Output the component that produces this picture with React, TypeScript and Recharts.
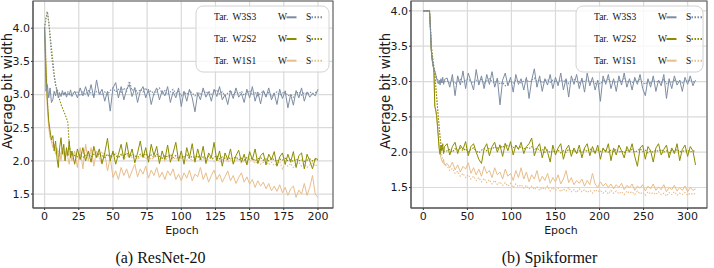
import React from 'react';
import { LineChart, Line, XAxis, YAxis, CartesianGrid } from 'recharts';

// colours of the three targets
const GRAY = '#7c8da3';
const OLIVE = '#8c8c00';
const TAN = '#e9bd8a';

// ---------- (a) ResNet-20 ----------
const EPOCH_L = [
  0, 1, 2, 3, 4, 5, 6, 7, 8, 9, 10, 11, 12, 13, 14, 15, 16, 17, 18, 19, 20,
  22, 24, 26, 28, 30, 32, 34, 36, 38, 40,
  42, 44, 46, 48, 50, 52, 54, 56, 58, 60,
  62, 64, 66, 68, 70, 72, 74, 76, 78, 80,
  82, 84, 86, 88, 90, 92, 94, 96, 98, 100,
  102, 104, 106, 108, 110, 112, 114, 116, 118, 120,
  122, 124, 126, 128, 130, 132, 134, 136, 138, 140,
  142, 144, 146, 148, 150, 152, 154, 156, 158, 160,
  162, 164, 166, 168, 170, 172, 174, 176, 178, 180,
  182, 184, 186, 188, 190, 192, 194, 196, 198, 200,
];

const W3_L = [
  4.0, 3.05, 3.15, 2.95, 3.1, 2.88, 2.92, 3.05, 2.98, 3.08, 2.95, 3.02, 2.97, 3.06, 2.99, 3.04, 2.96, 3.02, 3.0, 3.07, 2.97,
  3.05, 2.95, 3.1, 2.98, 3.12, 2.97, 3.15, 2.95, 3.22, 3.0,
  3.08, 2.9, 3.05, 2.75, 3.1, 3.18, 2.95, 3.12, 2.92, 3.08,
  3.15, 2.97, 3.1, 2.88, 3.05, 3.12, 2.95, 3.08, 2.85, 3.02,
  3.1, 2.92, 3.06, 2.98, 3.12, 2.88, 3.04, 2.95, 3.1, 2.82,
  3.05, 2.9, 3.08, 2.95, 2.74, 3.02, 2.92, 3.1, 2.96, 3.04,
  2.9, 3.08, 2.97, 3.12, 2.92, 3.0, 2.85, 3.06, 2.94, 3.1,
  2.96, 3.02, 2.88, 3.08, 2.95, 3.12, 2.9, 3.04, 2.86, 3.06,
  2.96, 3.1, 2.92, 3.02, 2.85, 3.08, 2.94, 3.05, 2.8, 3.0,
  2.84, 3.06, 2.95, 3.1, 2.9, 3.04, 2.96, 3.02, 2.98, 3.08,
];

const S3_L = [
  4.0, 4.15, 4.25, 4.1, 3.85, 3.6, 3.42, 3.27, 3.15, 3.08, 3.04, 3.02, 3.0, 3.03, 2.99, 3.02, 3.0, 3.04, 3.01, 2.98, 3.02,
  3.02, 3.05, 2.98, 3.04, 3.0, 3.06, 3.02, 2.98, 3.05, 3.03,
  2.99, 3.04, 3.0, 3.06, 3.1, 3.04, 3.08, 3.02, 3.1, 3.05,
  3.2, 3.06, 3.1, 3.02, 3.08, 3.04, 3.1, 3.03, 3.06, 3.0,
  3.05, 3.1, 3.02, 3.06, 3.0, 3.04, 3.08, 3.02, 3.05, 2.98,
  3.04, 3.0, 3.06, 3.02, 2.98, 3.04, 3.0, 3.06, 3.02, 3.05,
  3.0, 3.03, 3.07, 3.01, 3.04, 2.98, 3.02, 3.06, 3.0, 3.04,
  3.01, 3.05, 2.99, 3.03, 3.06, 3.0, 3.04, 2.98, 3.02, 3.05,
  3.0, 3.03, 2.97, 3.02, 3.04, 2.99, 3.02, 3.05, 2.98, 3.0,
  2.96, 3.02, 3.04, 2.99, 3.03, 3.0, 3.04, 3.01, 3.03, 3.05,
];

const W2_L = [
  4.0, 3.4, 2.9, 2.6, 2.45, 2.32, 2.38, 2.15, 2.3, 2.05, 1.9, 2.2, 2.35, 2.1, 2.25, 2.0, 2.2, 2.08, 2.3, 2.05, 2.15,
  1.95, 2.18, 2.02, 2.2, 2.0, 2.15, 1.98, 2.22, 2.05, 2.18,
  1.96, 2.12, 2.34, 2.0, 2.15, 1.95, 2.1, 2.25, 2.02, 2.28,
  2.05, 2.18, 1.97, 2.12, 2.3, 2.05, 2.2, 1.98, 2.25, 2.08,
  2.22, 1.96, 2.15, 2.02, 2.24, 1.98, 2.12, 2.28, 2.0, 2.15,
  1.95, 2.2, 2.05, 2.26, 1.98, 2.18, 2.02, 2.22, 1.96, 2.12,
  2.05, 2.28, 2.0, 2.15, 1.92, 2.12, 2.02, 2.18, 1.95, 2.08,
  2.16, 1.98, 2.1, 1.94, 2.14, 2.02, 2.18, 1.96, 2.08, 2.12,
  1.94, 2.1, 2.02, 2.14, 1.92, 2.06, 2.12, 1.95, 2.1, 1.98,
  2.14, 1.9, 2.08, 2.12, 1.88, 2.1, 2.0, 1.88, 2.04, 2.02,
];

const S2_L = [
  4.0, 4.15, 4.25, 4.1, 3.9, 3.7, 3.52, 3.3, 3.15, 3.05, 3.0, 2.92, 2.85, 2.8, 2.75, 2.7, 2.64, 2.58, 2.25, 2.12, 2.1,
  2.08, 2.06, 2.1, 2.05, 2.08, 2.12, 2.06, 2.1, 2.07, 2.12,
  2.08, 2.05, 2.1, 2.06, 2.12, 2.08, 2.05, 2.1, 2.07, 2.12,
  2.06, 2.1, 2.08, 2.05, 2.1, 2.07, 2.11, 2.06, 2.09, 2.05,
  2.1, 2.07, 2.04, 2.08, 2.06, 2.1, 2.05, 2.08, 2.04, 2.07,
  2.05, 2.09, 2.04, 2.07, 2.05, 2.08, 2.03, 2.06, 2.04, 2.07,
  2.03, 2.05, 2.08, 2.03, 2.06, 2.04, 2.02, 2.05, 2.03, 2.06,
  2.02, 2.04, 2.01, 2.05, 2.02, 2.04, 2.0, 2.03, 2.05, 2.01,
  2.03, 2.0, 2.04, 2.02, 1.99, 2.03, 2.01, 2.04, 2.0, 2.02,
  1.99, 2.03, 2.0, 2.02, 1.99, 2.01, 2.03, 2.0, 2.02, 2.01,
];

const W1_L = [
  4.0, 3.3, 2.8, 2.5, 2.35, 2.3, 2.2, 2.25, 2.1, 2.2, 2.05, 2.15, 2.0, 2.2, 2.1, 2.0, 2.15, 2.05, 1.95, 2.1, 2.0,
  2.15, 1.9, 2.2, 1.88, 2.25, 2.0, 2.2, 1.92, 2.15, 2.05,
  1.95, 2.12, 1.85, 2.05, 1.75, 1.85, 1.72, 1.9, 1.78, 1.88,
  1.74, 1.85, 1.95, 1.76, 1.88, 1.8, 1.92, 1.74, 1.86, 1.78,
  1.9, 1.75, 1.83, 1.72, 1.85, 1.78, 1.88, 1.72, 1.8, 1.7,
  1.82, 1.74, 1.86, 1.7, 1.8, 1.76, 1.9, 1.72, 1.82, 1.68,
  1.78, 1.86, 1.72, 1.8, 1.68, 1.76, 1.85, 1.7, 1.78, 1.66,
  1.75, 1.82, 1.68, 1.76, 1.65, 1.72, 1.6, 1.7, 1.62, 1.68,
  1.58, 1.66, 1.55, 1.62, 1.54, 1.64, 1.52, 1.6, 1.48, 1.58,
  1.62, 1.45, 1.56, 1.5, 1.66, 1.48, 1.6, 1.78, 1.5, 1.45,
];

const S1_L = [
  4.0, 3.6, 3.0, 2.6, 2.4, 2.3, 2.25, 2.2, 2.2, 2.15, 2.15, 2.12, 2.1, 2.12, 2.1, 2.08, 2.1, 2.08, 2.1, 2.06, 2.08,
  2.12, 2.08, 2.15, 2.1, 2.2, 2.08, 2.12, 2.18, 2.05, 2.1,
  2.14, 2.06, 2.1, 2.04, 2.08, 2.12, 2.05, 2.09, 2.03, 2.07,
  2.1, 2.04, 2.08, 2.02, 2.06, 2.1, 2.03, 2.07, 2.02, 2.05,
  2.08, 2.02, 2.06, 2.0, 2.05, 2.08, 2.02, 2.05, 2.0, 2.04,
  2.07, 2.01, 2.05, 2.0, 2.03, 2.06, 2.0, 2.04, 1.99, 2.03,
  2.05, 1.99, 2.03, 1.98, 2.02, 2.04, 1.98, 2.02, 1.97, 2.01,
  2.03, 1.97, 2.0, 1.96, 2.0, 2.02, 1.96, 1.99, 1.95, 1.98,
  2.0, 1.94, 1.98, 1.93, 1.96, 1.99, 1.88, 1.95, 1.92, 1.96,
  1.9, 1.95, 1.98, 1.92, 1.95, 1.9, 1.94, 1.97, 1.92, 1.95,
];

// ---------- (b) Spikformer ----------
const EPOCH_R = [
  0, 4, 7, 8, 9, 10, 11, 12, 13, 14, 15, 16, 17, 18, 19, 20, 21, 22, 23, 24,
  27, 30, 33, 36, 39, 42, 45, 48, 51, 54,
  57, 60, 63, 66, 69, 72, 75, 78, 81, 84,
  87, 90, 93, 96, 99, 102, 105, 108, 111, 114,
  117, 120, 123, 126, 129, 132, 135, 138, 141, 144,
  147, 150, 153, 156, 159, 162, 165, 168, 171, 174,
  177, 180, 183, 186, 189, 192, 195, 198, 201, 204,
  207, 210, 213, 216, 219, 222, 225, 228, 231, 234,
  237, 240, 243, 246, 249, 252, 255, 258, 261, 264,
  267, 270, 273, 276, 279, 282, 285, 288, 291, 294,
  297, 300, 303, 306, 309,
];

const W3_R = [
  4.0, 4.0, 4.0, 3.75, 3.45, 3.3, 3.22, 3.18, 3.15, 3.1, 3.05, 3.0, 2.97, 3.02, 2.95, 3.04, 2.98, 3.06, 2.96, 3.03,
  3.05, 2.92, 3.1, 2.8, 3.08, 2.95, 3.15, 2.9, 3.12, 3.0,
  2.88, 3.17, 2.95, 3.08, 2.9, 3.1, 2.96, 3.14, 2.92, 3.05,
  2.67, 3.02, 3.12, 2.94, 3.06, 2.85, 3.1, 2.96, 3.04, 2.88,
  3.06, 2.76, 3.02, 3.18, 2.92, 3.08, 2.86, 3.04, 2.95, 3.1,
  2.9, 3.06, 2.94, 3.12, 2.88, 3.04, 2.78, 3.08, 2.96, 3.1,
  2.9, 3.05, 2.85, 3.12, 2.94, 3.06, 2.88, 3.02, 2.72, 3.08,
  2.96, 3.1, 2.9, 3.04, 2.86, 3.08, 2.95, 3.12, 2.92, 3.04,
  2.88, 3.06, 2.96, 3.1, 2.9, 2.8, 3.04, 2.92, 3.08, 2.86,
  3.02, 2.94, 3.1, 2.76, 3.04, 2.9, 3.08, 2.95, 3.02, 2.86,
  3.06, 2.96, 3.08, 2.94, 3.02,
];

const S3_R = [
  4.0, 4.0, 4.0, 3.8, 3.5, 3.35, 3.24, 3.18, 3.14, 3.1, 3.06, 3.03, 3.01, 3.0, 2.99, 3.01, 3.0, 2.98, 3.01, 3.0,
  3.01, 2.98, 3.02, 2.97, 3.0, 3.03, 2.99, 3.02, 3.04, 3.0,
  2.98, 3.02, 3.0, 3.03, 2.97, 3.01, 3.04, 3.0, 2.98, 3.02,
  2.96, 2.99, 2.94, 2.98, 3.01, 2.97, 3.02, 3.0, 2.98, 3.01,
  3.03, 2.99, 3.02, 3.05, 3.0, 3.02, 2.98, 3.01, 3.03, 2.99,
  3.02, 3.0, 2.98, 3.03, 3.0, 3.02, 2.97, 3.01, 3.04, 3.0,
  2.98, 3.02, 3.0, 3.03, 2.99, 3.01, 2.97, 3.0, 2.96, 3.02,
  3.0, 3.03, 2.99, 3.01, 2.98, 3.02, 3.0, 3.04, 2.99, 3.01,
  2.98, 3.02, 3.0, 3.03, 2.99, 2.96, 3.01, 2.98, 3.02, 2.99,
  3.01, 2.98, 3.03, 2.97, 3.0, 2.99, 3.02, 3.0, 3.01, 2.98,
  3.02, 3.0, 3.03, 2.99, 3.01,
];

const W2_R = [
  4.0, 4.0, 4.0, 3.75, 3.45, 3.32, 3.25, 3.15, 2.65, 2.6, 2.52, 2.38, 2.22, 2.05, 1.97, 2.1, 2.02, 2.12, 1.98, 2.08,
  2.12, 1.96, 2.08, 2.14, 1.98, 2.1, 2.04, 2.15, 1.95, 2.08,
  2.12, 2.0, 1.9, 1.84, 2.05, 2.12, 1.95, 2.08, 2.14, 2.0,
  2.1, 1.94, 2.12, 2.02, 2.15, 1.96, 2.1, 2.04, 2.14, 1.98,
  2.08, 2.12, 2.2, 1.95, 2.06, 2.12, 1.92, 2.08, 2.0, 1.86,
  2.1, 1.96, 2.06, 2.12, 1.9, 2.04, 2.1, 1.94, 2.06, 1.98,
  2.1, 1.92, 2.06, 2.12, 1.95, 2.08, 1.98, 2.1, 1.9, 2.06,
  2.0, 2.12, 1.88, 2.06, 1.96, 2.1, 2.02, 1.92, 2.08, 2.0,
  2.12, 1.94, 1.8, 2.06, 2.1, 1.9, 2.08, 2.02, 1.86, 2.06,
  2.12, 1.96, 2.04, 2.1, 1.92, 2.06, 1.98, 2.12, 1.88, 2.04,
  2.1, 1.94, 2.08, 2.02, 1.82,
];

const S2_R = [
  4.0, 4.0, 4.0, 3.8, 3.5, 3.4, 3.3, 3.2, 3.1, 2.95, 2.8, 2.65, 2.5, 2.35, 2.22, 2.12, 2.06, 2.03, 2.02, 2.01,
  2.02, 2.04, 2.0, 2.05, 2.03, 2.06, 2.02, 2.05, 2.0, 2.04,
  2.06, 2.02, 1.99, 2.03, 2.05, 2.02, 2.06, 2.04, 2.08, 2.05,
  2.1, 2.06, 2.12, 2.08, 2.1, 2.06, 2.09, 2.05, 2.08, 2.04,
  2.07, 2.05, 2.08, 2.03, 2.06, 2.02, 2.04, 2.0, 2.03, 1.99,
  2.02, 2.0, 2.03, 1.99, 2.02, 2.0, 2.04, 2.01, 2.03, 1.99,
  2.02, 2.0, 2.04, 2.01, 2.05, 2.02, 2.0, 2.03, 2.01, 2.04,
  2.02, 2.0, 2.03, 2.01, 2.04, 2.0, 2.02, 1.99, 2.03, 2.01,
  2.04, 2.0, 2.02, 2.05, 2.01, 2.03, 1.99, 2.02, 2.0, 2.03,
  2.01, 2.04, 2.0, 2.02, 1.99, 2.03, 2.01, 2.04, 2.0, 2.02,
  2.01, 2.03, 2.0, 2.02, 2.01,
];

const W1_R = [
  4.0, 4.0, 4.0, 3.75, 3.45, 3.32, 3.25, 3.15, 2.65, 2.6, 2.52, 2.38, 2.22, 2.05, 1.98, 1.92, 1.88, 1.85, 1.9, 1.82,
  1.84, 1.78, 1.86, 1.75, 1.82, 1.72, 1.8, 1.76, 1.85, 1.7,
  1.78, 1.68, 1.76, 1.66, 1.8, 1.7, 1.74, 1.64, 1.78, 1.68,
  1.72, 1.62, 1.76, 1.66, 1.7, 1.6, 1.74, 1.64, 1.78, 1.62,
  1.72, 1.58, 1.68, 1.62, 1.74, 1.58, 1.66, 1.6, 1.7, 1.56,
  1.64, 1.58, 1.68, 1.55, 1.62, 1.74, 1.57, 1.64, 1.54, 1.6,
  1.56, 1.62, 1.52, 1.6, 1.54, 1.7, 1.55, 1.5, 1.58, 1.52,
  1.56, 1.5, 1.55, 1.48, 1.54, 1.5, 1.56, 1.47, 1.53, 1.5,
  1.55, 1.46, 1.52, 1.49, 1.54, 1.45, 1.52, 1.48, 1.55, 1.46,
  1.51, 1.47, 1.54, 1.44, 1.5, 1.47, 1.53, 1.45, 1.5, 1.46,
  1.52, 1.44, 1.5, 1.46, 1.48,
];

const S1_R = [
  4.0, 4.0, 4.0, 3.8, 3.5, 3.4, 3.3, 3.2, 3.1, 2.95, 2.8, 2.65, 2.5, 2.35, 2.2, 2.05, 1.95, 1.9, 1.86, 1.82,
  1.8, 1.74, 1.77, 1.7, 1.73, 1.66, 1.7, 1.64, 1.68, 1.62,
  1.66, 1.6, 1.64, 1.58, 1.63, 1.57, 1.61, 1.55, 1.6, 1.54,
  1.58, 1.53, 1.57, 1.52, 1.56, 1.5, 1.55, 1.51, 1.54, 1.49,
  1.53, 1.48, 1.52, 1.47, 1.51, 1.46, 1.5, 1.47, 1.52, 1.45,
  1.5, 1.46, 1.49, 1.44, 1.48, 1.45, 1.5, 1.44, 1.47, 1.43,
  1.48, 1.44, 1.47, 1.43, 1.46, 1.42, 1.47, 1.44, 1.46, 1.42,
  1.45, 1.41, 1.46, 1.42, 1.45, 1.41, 1.44, 1.4, 1.45, 1.42,
  1.44, 1.4, 1.45, 1.41, 1.43, 1.39, 1.44, 1.41, 1.43, 1.4,
  1.44, 1.4, 1.42, 1.38, 1.43, 1.4, 1.44, 1.39, 1.42, 1.4,
  1.43, 1.39, 1.42, 1.4, 1.42,
];

const X_TICKS_L = [0, 25, 50, 75, 100, 125, 150, 175, 200];
const X_TICKS_R = [0, 50, 100, 150, 200, 250, 300];
const Y_TICKS = [1.5, 2.0, 2.5, 3.0, 3.5, 4.0];
const LEGEND_ROWS = [
  { target: 'W3S3', color: GRAY },
  { target: 'W2S2', color: OLIVE },
  { target: 'W1S1', color: TAN },
];

const leftData = EPOCH_L.map((epoch, i) => ({
  epoch, w3: W3_L[i], s3: S3_L[i], w2: W2_L[i], s2: S2_L[i], w1: W1_L[i], s1: S1_L[i],
}));
const rightData = EPOCH_R.map((epoch, i) => ({
  epoch, w3: W3_R[i], s3: S3_R[i], w2: W2_R[i], s2: S2_R[i], w1: W1_R[i], s1: S1_R[i],
}));

const SANS = 'DejaVu Sans';
const SERIF = 'Liberation Serif';
const tickStyle = { fontSize: 11, fontFamily: SANS, fill: '#1a1a1a' };

interface PanelProps {
  data: any[];
  left: number;
  width: number;
  xDomain: [number, number];
  xTicks: number[];
  yDomain: [number, number];
}

const Panel: React.FC<PanelProps> = ({ data, left, width, xDomain, xTicks, yDomain }) => (
  <div style={{ position: 'absolute', left, top: 0 }}>
    <LineChart width={width} height={240} data={data} margin={{ top: 1, right: 7, bottom: 0, left: 0 }}>
      <CartesianGrid stroke="#dadada" strokeWidth={1.2} />
      <XAxis
        type="number"
        dataKey="epoch"
        domain={xDomain}
        allowDataOverflow
        ticks={xTicks}
        interval={0}
        height={32}
        tick={tickStyle}
        tickSize={2}
        tickMargin={2}
        tickLine={{ stroke: '#333' }}
        axisLine={{ stroke: '#555' }}
      />
      <YAxis
        type="number"
        domain={yDomain}
        allowDataOverflow
        ticks={Y_TICKS}
        interval={0}
        width={33}
        tick={tickStyle}
        tickSize={2}
        tickMargin={1}
        tickFormatter={(v: number) => v.toFixed(1)}
        tickLine={{ stroke: '#333' }}
        axisLine={{ stroke: '#555' }}
      />
      <Line type="linear" dataKey="w1" stroke={TAN} strokeWidth={1} dot={false} isAnimationActive={false} />
      <Line type="linear" dataKey="s1" stroke={TAN} strokeWidth={1.1} strokeDasharray="1.5 1.5" dot={false} isAnimationActive={false} />
      <Line type="linear" dataKey="s2" stroke={OLIVE} strokeWidth={1.1} strokeDasharray="1.5 1.5" dot={false} isAnimationActive={false} />
      <Line type="linear" dataKey="w2" stroke={OLIVE} strokeWidth={1} dot={false} isAnimationActive={false} />
      <Line type="linear" dataKey="s3" stroke={GRAY} strokeWidth={1.1} strokeDasharray="1.5 1.5" dot={false} isAnimationActive={false} />
      <Line type="linear" dataKey="w3" stroke={GRAY} strokeWidth={1} dot={false} isAnimationActive={false} />
    </LineChart>
  </div>
);

const Legend: React.FC<{ x: number; w: number }> = ({ x, w }) => (
  <g>
    <rect x={x} y={6} width={w} height={66} rx={7} fill="#fff" fillOpacity={0.8} stroke="#d2d2d2" />
    {LEGEND_ROWS.map((r, i) => {
      const cy = 17.3 + i * 21.7;
      return (
        <g key={r.target} fontFamily={SERIF} fontSize={9.5} fill="#111">
          <text x={x + 18} y={cy + 3}>Tar.</text>
          <text x={x + 36.5} y={cy + 3}>{r.target}</text>
          <text x={x + 82} y={cy + 3}>W</text>
          <line x1={x + 90.5} x2={x + 100.5} y1={cy} y2={cy} stroke={r.color} strokeWidth={2} />
          <text x={x + 110} y={cy + 3}>S</text>
          <line x1={x + 115.5} x2={x + 126} y1={cy} y2={cy} stroke={r.color} strokeWidth={2} strokeDasharray="1.5 1.5" />
        </g>
      );
    })}
  </g>
);

export default function App() {
  return (
    <div style={{ position: 'absolute', left: 0, top: 0, width: 714, height: 268, background: '#fff', overflow: 'hidden' }}>
      <Panel data={leftData} left={0} width={340} xDomain={[-8.5, 211]} xTicks={X_TICKS_L} yDomain={[1.29, 4.41]} />
      <Panel data={rightData} left={378} width={336} xDomain={[-14, 322]} xTicks={X_TICKS_R} yDomain={[1.21, 4.14]} />
      <svg width={714} height={268} style={{ position: 'absolute', left: 0, top: 0, pointerEvents: 'none' }}>
        {/* plot frames */}
        <rect x={33} y={1} width={300} height={207} fill="none" stroke="#555" strokeWidth={1} />
        <rect x={411} y={1} width={296} height={207} fill="none" stroke="#555" strokeWidth={1} />
        <Legend x={196} w={133} />
        <Legend x={576} w={127} />
        <text x={182} y={233.5} textAnchor="middle" fontFamily={SANS} fontSize={11} fill="#1a1a1a">Epoch</text>
        <text x={561} y={233.5} textAnchor="middle" fontFamily={SANS} fontSize={11} fill="#1a1a1a">Epoch</text>
        <text transform="translate(7.5 91) rotate(-90)" textAnchor="middle" dominantBaseline="central" fontFamily={SANS} fontSize={13.2} fill="#1a1a1a">Average bit width</text>
        <text transform="translate(385 91) rotate(-90)" textAnchor="middle" dominantBaseline="central" fontFamily={SANS} fontSize={13.2} fill="#1a1a1a">Average bit width</text>
        <text x={160.5} y={263} textAnchor="middle" fontFamily={SERIF} fontSize={16} fill="#111">(a) ResNet-20</text>
        <text x={549.5} y={263} textAnchor="middle" fontFamily={SERIF} fontSize={16} fill="#111">(b) Spikformer</text>
      </svg>
    </div>
  );
}
